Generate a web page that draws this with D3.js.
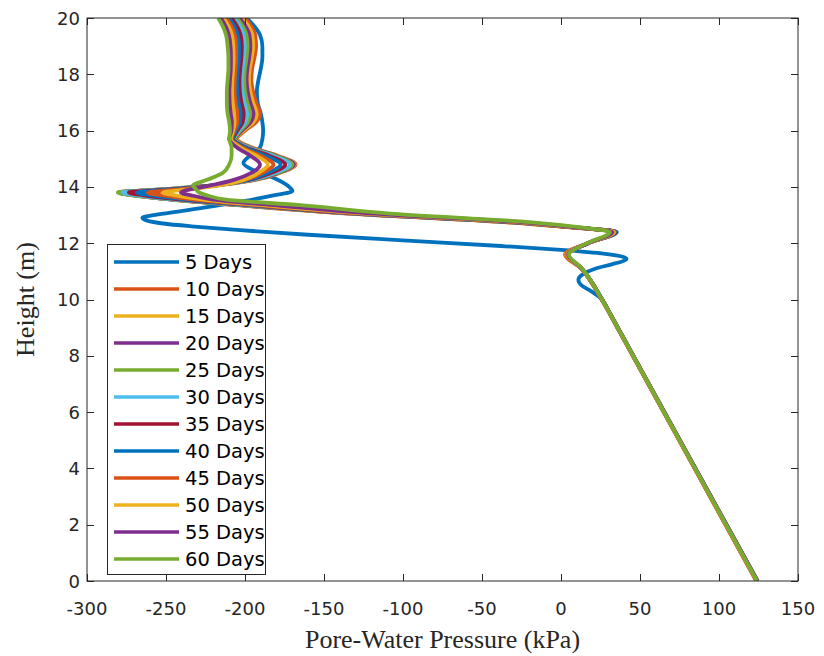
<!DOCTYPE html>
<html><head><meta charset="utf-8">
<script src="https://cdn.jsdelivr.net/npm/d3@7"></script>
<style>body{margin:0;background:#fff}</style>
</head><body><svg id="c" width="824" height="656"></svg>
<script>
// ---------- data ----------
const seriesLabels = ["5 Days","10 Days","15 Days","20 Days","25 Days","30 Days","35 Days","40 Days","45 Days","50 Days","55 Days","60 Days"];
const seriesColors = ["#0072BD","#D95319","#EDB120","#7E2F8E","#77AC30","#4DBEEE","#A2142F","#0072BD","#D95319","#EDB120","#7E2F8E","#77AC30"];
const xTicks = [-300,-250,-200,-150,-100,-50,0,50,100,150];
const yTicks = [0,2,4,6,8,10,12,14,16,18,20];

// 5 Days profile (height m, pressure kPa)
const heights5 = [0,4.95,9.5,9.7,9.9,10.1,10.3,10.5,10.7,10.9,11.1,11.25,11.38,11.45,11.52,11.62,11.76,11.9,12.1,12.3,12.47,12.6,12.7,12.8,12.9,13.0,13.1,13.3,13.5,13.7,13.85,14.0,14.3,14.6,14.85,15.1,15.4,15.7,16.0,16.3,16.6,17.0,17.4,17.8,18.2,18.6,19.0,19.4,19.7,20];
const p5 = [124.3,75.6,30.9,28.9,27,24,19,13,11,14,22,32,40,41.5,39,28,0,-38,-100,-160,-205,-234,-252,-262,-265,-258,-245,-222,-200,-182,-170,-172,-181,-195,-201,-197,-190.5,-189,-188.5,-189,-190,-192,-192.5,-191.5,-190,-189,-189,-190.5,-194,-199];

// shared heights for 10..60 Days
const heights = [0,4.9,9.4,9.8,10.2,10.6,11.1,11.6,12.0,12.4,12.55,12.75,13.05,13.35,13.55,13.7,13.8,13.92,14.05,14.25,14.5,14.8,15.1,15.4,15.7,16.0,16.3,16.6,17.0,17.4,17.8,18.2,18.6,19.0,19.4,19.7,20];
const p10 = [123.6,75.8,31.9,28,23.8,19.5,13,2.5,17,34,8,-36,-134,-205,-246,-270,-279,-249,-219,-193.5,-178,-168,-179.1,-195.8,-205,-200,-193,-190.5,-193,-195,-196,-195.5,-194,-193,-193.5,-196,-200];
const p15 = [123.8,75.9,31.9,28,23.8,19.5,13,3,17,34.5,8.5,-35,-133,-204,-246,-270,-279.5,-249.5,-219.5,-194,-178.5,-168.5,-179.6,-196.3,-205.5,-201,-194.7,-192.6,-194.9,-196.7,-197.5,-197,-195.7,-194.8,-195.4,-197.8,-201.7];
const p20 = [124.4,76.3,32.1,28.2,24,19.6,13,3.5,17,35,9,-34,-132,-203,-246,-270.5,-280,-250,-220,-194.5,-179,-169,-180.1,-196.8,-206,-201.9,-196.4,-194.6,-196.7,-198.3,-199,-198.5,-197.3,-196.6,-197.2,-199.6,-203.4];
const p25 = [124,76,31.9,28,23.8,19.5,13,4,17,35,9.5,-33,-131,-202,-246,-271,-280.5,-250.7,-220.8,-195.4,-179.9,-170,-181,-197.4,-206.5,-202.9,-198.1,-196.7,-198.6,-200,-200.5,-200,-199,-198.4,-199.1,-201.4,-205.1];
const p30 = [124,76,31.9,28,23.8,19.5,13,4,17,35.5,10,-32,-130,-200,-244,-268,-277.5,-248.9,-220.3,-195.9,-181,-171.5,-182.2,-198.1,-207,-203.8,-199.8,-198.7,-200.4,-201.6,-202,-201.5,-200.6,-200.2,-200.9,-203.2,-206.8];
const p35 = [124,76,31.9,28,23.8,19.5,13,4,17,35,10,-31,-129,-198,-241,-264,-273.5,-246.8,-220,-197.3,-183.4,-174.5,-184.4,-199.3,-207.5,-204.8,-201.5,-200.8,-202.3,-203.3,-203.5,-203,-202.3,-202,-202.8,-205,-208.5];
const p40 = [124,76,31.9,28,23.8,19.5,13,4,17,34.5,10.5,-30,-127,-196,-237,-259,-268.5,-243.9,-219.4,-198.4,-185.7,-177.5,-186.7,-200.4,-208,-205.7,-203.2,-202.8,-204.1,-204.9,-205,-204.5,-203.9,-203.8,-204.6,-206.8,-210.2];
const p45 = [123.7,75.8,31.7,27.8,23.6,19.3,12.8,3.5,16.8,34,10.5,-29,-125,-193,-232,-252,-261.5,-240,-218.6,-200.3,-189.2,-182,-190,-201.9,-208.5,-206.7,-204.9,-204.9,-206,-206.6,-206.5,-206,-205.6,-205.6,-206.5,-208.6,-211.9];
const p50 = [124,76,31.9,28,23.8,19.5,13,4,17,33.5,11,-27,-122,-188,-226,-244,-252,-234,-216.1,-200.8,-191.5,-185.5,-192.6,-203.1,-209,-207.6,-206.6,-206.9,-207.8,-208.2,-208,-207.5,-207.2,-207.4,-208.3,-210.4,-213.6];
const p55 = [124.4,76.3,32.1,28.2,24,19.7,13.2,4.5,17,32.5,11.5,-25,-118,-182,-220,-234,-240.5,-234,-222,-207,-196,-190.5,-196.4,-205.1,-210,-208.6,-208.3,-209,-209.7,-209.9,-209.5,-209,-208.9,-209.2,-210.2,-212.2,-215.3];
const p60 = [124.1,76.1,32,28.1,23.9,19.6,13.3,5,16.5,31,14,-20,-108,-165,-212,-224,-229,-231,-233,-224,-214,-210,-208.5,-208.5,-210,-209.5,-210,-211,-211.5,-211.5,-211,-210.5,-210.5,-211,-212,-214,-217];

// ---------- chart ----------
const svg = d3.select("#c");
const mLeft = 87, mRight = 798, mTop = 18, mBottom = 581;
const x = d3.scaleLinear().domain([-300,150]).range([mLeft,mRight]);
const y = d3.scaleLinear().domain([0,20]).range([mBottom,mTop]);
const axisColor = "#262626";

const series = [
  {h: heights5, p: p5},
  {h: heights, p: p10},{h: heights, p: p15},{h: heights, p: p20},{h: heights, p: p25},
  {h: heights, p: p30},{h: heights, p: p35},{h: heights, p: p40},{h: heights, p: p45},
  {h: heights, p: p50},{h: heights, p: p55},{h: heights, p: p60}
].map((s,i) => ({
  label: seriesLabels[i], color: seriesColors[i],
  pts: s.h.map((h,j) => ({h, p: s.p[j]})).sort((a,b) => b.h - a.h)
}));

svg.append("defs").append("clipPath").attr("id","clip")
  .append("rect").attr("x",mLeft).attr("y",mTop).attr("width",mRight-mLeft).attr("height",mBottom-mTop);

const line = d3.line().x(d => x(d.p)).y(d => y(d.h)).curve(d3.curveMonotoneY);
const g = svg.append("g").attr("clip-path","url(#clip)");
g.selectAll("path").data(series).join("path")
  .attr("d", d => line(d.pts))
  .attr("fill","none").attr("stroke", d => d.color)
  .attr("stroke-width",3.8).attr("stroke-linejoin","round").attr("stroke-linecap","butt");

// axes box and ticks
const ax = svg.append("g");
ax.append("rect").attr("x",mLeft).attr("y",mTop).attr("width",mRight-mLeft).attr("height",mBottom-mTop)
  .attr("fill","none").attr("stroke",axisColor).attr("stroke-width",1);
const tl = 7;
xTicks.forEach(t => {
  const px = Math.round(x(t)) + 0.5;
  ax.append("line").attr("x1",px).attr("x2",px).attr("y1",mBottom).attr("y2",mBottom-tl).attr("stroke",axisColor);
  ax.append("line").attr("x1",px).attr("x2",px).attr("y1",mTop).attr("y2",mTop+tl).attr("stroke",axisColor);
  ax.append("text").attr("x",x(t)).attr("y",mBottom+34).attr("text-anchor","middle")
    .attr("font-family","DejaVu Sans").attr("font-size",18).attr("fill",axisColor).text(t);
});
yTicks.forEach(t => {
  const py = Math.round(y(t)) + 0.5;
  ax.append("line").attr("x1",mLeft).attr("x2",mLeft+tl).attr("y1",py).attr("y2",py).attr("stroke",axisColor);
  ax.append("line").attr("x1",mRight).attr("x2",mRight-tl).attr("y1",py).attr("y2",py).attr("stroke",axisColor);
  ax.append("text").attr("x",mLeft-7).attr("y",y(t)+6.5).attr("text-anchor","end")
    .attr("font-family","DejaVu Sans").attr("font-size",18).attr("fill",axisColor).text(t);
});

svg.append("text").attr("x",(mLeft+mRight)/2).attr("y",648).attr("text-anchor","middle")
  .attr("font-family","Liberation Serif").attr("font-size",26).attr("fill",axisColor)
  .text("Pore-Water Pressure (kPa)");
svg.append("text").attr("transform",`translate(34,${(mTop+mBottom)/2}) rotate(-90)`).attr("text-anchor","middle")
  .attr("font-family","Liberation Serif").attr("font-size",26).attr("fill",axisColor)
  .text("Height (m)");

// legend
const lg = svg.append("g");
lg.append("rect").attr("x",107.5).attr("y",244.5).attr("width",158).attr("height",330)
  .attr("fill","#fff").attr("stroke",axisColor).attr("stroke-width",1);
series.forEach((s,i) => {
  const yy = 262 + i*27;
  lg.append("line").attr("x1",114).attr("x2",179).attr("y1",yy).attr("y2",yy)
    .attr("stroke",s.color).attr("stroke-width",3.6);
  lg.append("text").attr("x",185).attr("y",yy+7).attr("font-family","DejaVu Sans")
    .attr("font-size",19.5).attr("fill","#000").text(s.label);
});
</script></body></html>
